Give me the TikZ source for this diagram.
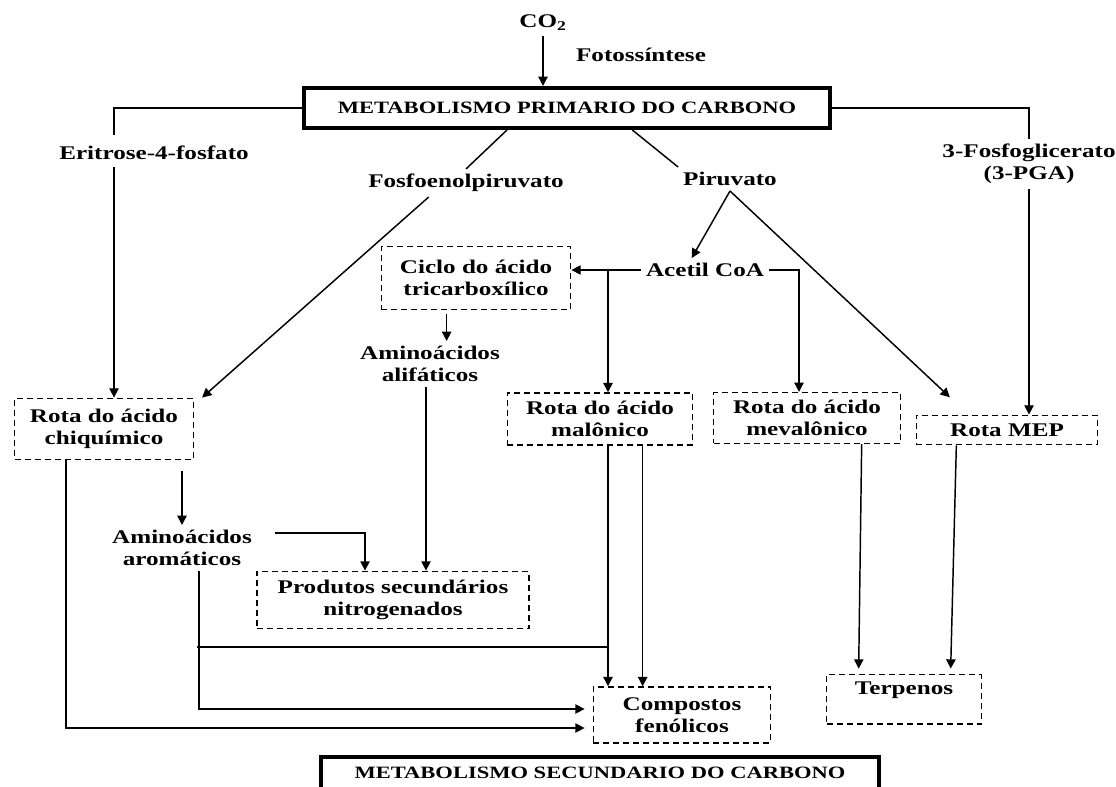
\documentclass[tikz,border=0pt]{standalone}
\usepackage{fontspec}
\setmainfont{Liberation Serif}[FakeStretch=1.3]
\usetikzlibrary{arrows.meta}

\begin{document}
\begin{tikzpicture}[x=0.75pt, y=-0.75pt, line width=1.1pt,
    every node/.style={font=\bfseries\fontsize{14.5}{16.5}\selectfont, align=center},
    box/.style={draw, dash pattern=on 4.5pt off 3pt, inner sep=2pt},
    titlebox/.style={draw, line width=3pt, font=\bfseries\fontsize{13}{14}\selectfont},
    arr/.style={-{Triangle[length=7pt, width=7pt]}}]
    \useasboundingbox (0,0) rectangle (1116,787);
    \clip (0,0) rectangle (1116,787);

    \node (co2) at (543,23) {CO\textsubscript{2}};
    \node (foto) at (641,55) {Fotossíntese};
    \node[titlebox, minimum width=394pt, minimum height=30pt] (prim) at (567,108) {METABOLISMO PRIMARIO DO CARBONO};
    \node (eri) at (154,153) {Eritrose-4-fosfato};
    \node (fosfo) at (466,183) {Fosfoenolpiruvato};
    \node (piru) at (730,179) {Piruvato};
    \node (pga) at (1029,164) {3-Fosfoglicerato\\(3-PGA)};
    \node (acetil) at (705,270) {Acetil CoA};
    \node[box, minimum width=142pt, minimum height=47pt] (ciclo) at (476,278) {Ciclo do ácido\\tricarboxílico};
    \node (alif) at (430,364) {Aminoácidos\\alifáticos};
    \node[box, minimum width=134pt, minimum height=46pt] (chiq) at (104,429) {Rota do ácido\\chiquímico};
    \node[box, minimum width=139pt, minimum height=39pt] (malon) at (600,419) {Rota do ácido\\malônico};
    \node[box, minimum width=140pt, minimum height=38pt] (meval) at (807,418) {Rota do ácido\\mevalônico};
    \node[box, minimum width=136pt, minimum height=22pt] (mep) at (1007,430) {Rota MEP};
    \node (arom) at (182,548) {Aminoácidos\\aromáticos};
    \node[box, minimum width=204pt, minimum height=43pt] (prod) at (393,600) {Produtos secundários\\nitrogenados};
    \node[box, minimum width=133pt, minimum height=42pt] (comp) at (682,715) {Compostos\\fenólicos};
    \node[box, minimum width=116pt, minimum height=37pt, anchor=north] (terp) at (904,674) {Terpenos\\\mbox{}};
    \node[titlebox, minimum width=419pt, inner ysep=7pt, text height=9pt, text depth=18pt, anchor=north] (sec) at (600,755) {METABOLISMO SECUNDARIO DO CARBONO};

    \coordinate (e1) at (114,135);
    \coordinate (e2) at (114,167);
    \coordinate (j1) at (608,270);
    \coordinate (a1) at (275,533);
    \coordinate (h1) at (197,647);

    \draw[arr] (co2) -- (co2 |- prim.north);
    \draw (prim.west) -| (e1);
    \draw[arr] (e2) -- (e2 |- chiq.north);
    \draw (prim.east) -| (pga.north);
    \draw[arr] (pga.south) -- (pga.south |- mep.north);
    \draw ([xshift=-45pt]prim.south) -- (fosfo.north);
    \draw ([xshift=49pt]prim.south) -- (piru.north west);
    \draw[arr] ([xshift=-28pt]fosfo.south) -- ([xshift=6pt]chiq.north east);
    \draw[arr] (piru.south) -- ([xshift=-10pt]acetil.north);
    \draw[arr, shorten >=19pt] (piru.south) -- ([xshift=-29pt]mep.north);
    \draw[arr] (acetil.west) -- (acetil.west -| ciclo.east);
    \draw[arr] (j1) -- (j1 |- malon.north);
    \draw[arr] (acetil.east) -| ([xshift=-6pt]meval.north);
    \draw[arr] ([xshift=-22pt, yshift=-3pt]ciclo.south) -- ([xshift=-22pt]ciclo.south |- alif.north);
    \draw[arr] ([xshift=-3pt]alif.south) -- ([xshift=-3pt]alif.south |- prod.north);
    \draw[arr] ([yshift=-8pt]arom.north |- chiq.south) -- (arom.north);
    \draw[arr] (a1) -| ([xshift=-21pt]prod.north);
    \draw[arr, shorten >=6pt] ([xshift=12.75pt]arom.south) |- ([yshift=4.5pt]comp.west);
    \draw[arr, shorten >=6pt] ([xshift=-28.5pt]chiq.south) |- ([yshift=-9.75pt]comp.west);
    \draw (h1) -- (h1 -| j1);
    \draw[arr] (j1 |- malon.south) -- (j1 |- comp.north);
    \draw[arr] ([xshift=32pt]malon.south) -- ([xshift=32pt]malon.south |- comp.north);
    \draw[arr] ([xshift=41pt]meval.south) -- ([xshift=-34pt, yshift=4pt]terp.north);
    \draw[arr] ([xshift=-38pt]mep.south) -- ([xshift=35pt, yshift=4pt]terp.north);
\end{tikzpicture}
\end{document}
